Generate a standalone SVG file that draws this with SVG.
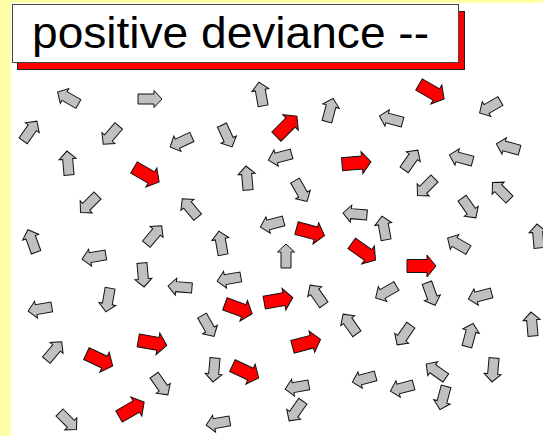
<svg xmlns="http://www.w3.org/2000/svg" xmlns:xlink="http://www.w3.org/1999/xlink" width="543" height="436" viewBox="0 0 543 436">
<style>
.g{fill:#C0C0C0;stroke:#111;stroke-width:1;stroke-linejoin:miter}
.r{fill:#FF0000;stroke:#111;stroke-width:1;stroke-linejoin:miter}
.t{font-family:"Liberation Sans",Arial,sans-serif;font-size:45px;fill:#000}
</style>
<defs>
<path id="ga" d="M-12,-5 L4,-5 L4,-8.5 L12,0 L4,8.5 L4,5 L-12,5 Z"/>
<path id="ra" d="M-15,-6.5 L5,-6.5 L5,-11 L14,0 L5,11 L5,6.5 L-15,6.5 Z"/>
</defs>
<rect x="0" y="0" width="543" height="436" fill="#FFFFA8"/>
<rect x="11" y="3" width="532" height="433" fill="#FFFFFF"/>
<g id="title">
<rect x="17.5" y="11.5" width="447" height="58" fill="#FF0000" stroke="#222" stroke-width="1"/>
<rect x="12.5" y="4.5" width="446" height="58" fill="#FFFFFF" stroke="#444" stroke-width="1"/>
<text class="t" x="32" y="48" textLength="397" lengthAdjust="spacingAndGlyphs">positive deviance --</text>
</g>
<g id="arrows">
<use href="#ga" class="g" transform="translate(68,98) rotate(-150)"/>
<use href="#ga" class="g" transform="translate(150,99) rotate(0)"/>
<use href="#ga" class="g" transform="translate(261,94) rotate(-100)"/>
<use href="#ra" class="r" transform="translate(287,126) rotate(-45)"/>
<use href="#ga" class="g" transform="translate(330,110) rotate(-75)"/>
<use href="#ra" class="r" transform="translate(432,92) rotate(30)"/>
<use href="#ga" class="g" transform="translate(490,107) rotate(150)"/>
<use href="#ga" class="g" transform="translate(391,119) rotate(-165)"/>
<use href="#ga" class="g" transform="translate(30,131) rotate(-55)"/>
<use href="#ga" class="g" transform="translate(111,135) rotate(130)"/>
<use href="#ga" class="g" transform="translate(181,142) rotate(155)"/>
<use href="#ga" class="g" transform="translate(227,136) rotate(65)"/>
<use href="#ga" class="g" transform="translate(68,163) rotate(-95)"/>
<use href="#ra" class="r" transform="translate(147,175) rotate(30)"/>
<use href="#ga" class="g" transform="translate(280,157) rotate(165)"/>
<use href="#ga" class="g" transform="translate(247,178) rotate(-95)"/>
<use href="#ra" class="r" transform="translate(357,163) rotate(-5)"/>
<use href="#ga" class="g" transform="translate(301,191) rotate(60)"/>
<use href="#ga" class="g" transform="translate(411,160) rotate(-55)"/>
<use href="#ga" class="g" transform="translate(461,158) rotate(-165)"/>
<use href="#ga" class="g" transform="translate(508,147) rotate(-165)"/>
<use href="#ga" class="g" transform="translate(426,187) rotate(135)"/>
<use href="#ga" class="g" transform="translate(501,191) rotate(-135)"/>
<use href="#ga" class="g" transform="translate(89,204) rotate(135)"/>
<use href="#ga" class="g" transform="translate(190,208) rotate(-130)"/>
<use href="#ga" class="g" transform="translate(355,214) rotate(185)"/>
<use href="#ga" class="g" transform="translate(384,228) rotate(-100)"/>
<use href="#ga" class="g" transform="translate(272,224) rotate(165)"/>
<use href="#ra" class="r" transform="translate(311,232) rotate(15)"/>
<use href="#ra" class="r" transform="translate(364,252) rotate(35)"/>
<use href="#ga" class="g" transform="translate(32,241) rotate(-110)"/>
<use href="#ga" class="g" transform="translate(154,235) rotate(-50)"/>
<use href="#ga" class="g" transform="translate(221,243) rotate(-100)"/>
<use href="#ga" class="g" transform="translate(286,256) rotate(-90)"/>
<use href="#ga" class="g" transform="translate(458,244) rotate(-150)"/>
<use href="#ga" class="g" transform="translate(469,208) rotate(55)"/>
<use href="#ga" class="g" transform="translate(538,236) rotate(-95)"/>
<use href="#ra" class="r" transform="translate(422,266) rotate(0)"/>
<use href="#ga" class="g" transform="translate(94,257) rotate(170)"/>
<use href="#ga" class="g" transform="translate(143,275) rotate(85)"/>
<use href="#ga" class="g" transform="translate(180,287) rotate(185)"/>
<use href="#ga" class="g" transform="translate(229,279) rotate(170)"/>
<use href="#ga" class="g" transform="translate(108,300) rotate(100)"/>
<use href="#ga" class="g" transform="translate(40,309) rotate(170)"/>
<use href="#ra" class="r" transform="translate(239,309) rotate(20)"/>
<use href="#ra" class="r" transform="translate(279,300) rotate(-10)"/>
<use href="#ga" class="g" transform="translate(317,295) rotate(-125)"/>
<use href="#ga" class="g" transform="translate(431,294) rotate(70)"/>
<use href="#ga" class="g" transform="translate(386,292) rotate(150)"/>
<use href="#ga" class="g" transform="translate(480,296) rotate(165)"/>
<use href="#ga" class="g" transform="translate(350,324) rotate(-125)"/>
<use href="#ga" class="g" transform="translate(208,326) rotate(60)"/>
<use href="#ra" class="r" transform="translate(307,343) rotate(-15)"/>
<use href="#ga" class="g" transform="translate(404,335) rotate(125)"/>
<use href="#ga" class="g" transform="translate(470,335) rotate(-75)"/>
<use href="#ga" class="g" transform="translate(532,324) rotate(-95)"/>
<use href="#ra" class="r" transform="translate(153,343) rotate(10)"/>
<use href="#ga" class="g" transform="translate(54,351) rotate(-50)"/>
<use href="#ra" class="r" transform="translate(100,360) rotate(25)"/>
<use href="#ga" class="g" transform="translate(214,370) rotate(95)"/>
<use href="#ra" class="r" transform="translate(246,372) rotate(25)"/>
<use href="#ga" class="g" transform="translate(161,385) rotate(55)"/>
<use href="#ga" class="g" transform="translate(297,387) rotate(170)"/>
<use href="#ga" class="g" transform="translate(364,379) rotate(165)"/>
<use href="#ga" class="g" transform="translate(436,371) rotate(-145)"/>
<use href="#ga" class="g" transform="translate(493,370) rotate(95)"/>
<use href="#ga" class="g" transform="translate(402,388) rotate(165)"/>
<use href="#ga" class="g" transform="translate(443,398) rotate(105)"/>
<use href="#ga" class="g" transform="translate(296,411) rotate(125)"/>
<use href="#ga" class="g" transform="translate(218,423) rotate(170)"/>
<use href="#ra" class="r" transform="translate(132,409) rotate(-30)"/>
<use href="#ga" class="g" transform="translate(68,421) rotate(45)"/>
</g>
</svg>
